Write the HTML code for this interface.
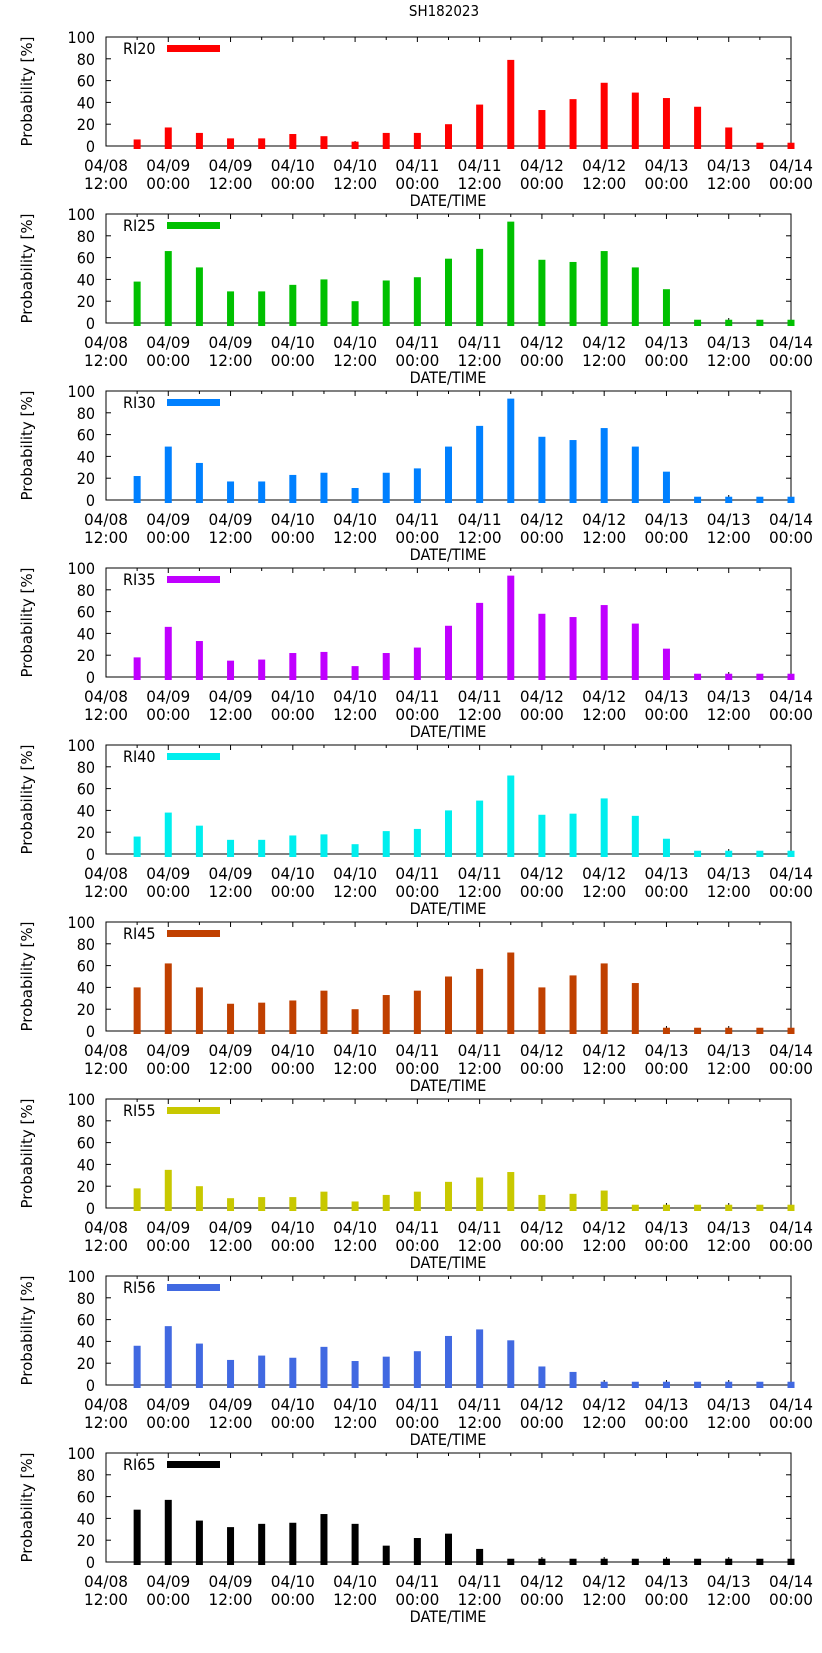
<!DOCTYPE html>
<html><head><meta charset="utf-8"><style>
body{margin:0;background:#fff;width:822px;height:1653px;overflow:hidden}
svg{display:block}
text{font-family:"DejaVu Sans Condensed","DejaVu Sans","Liberation Sans",sans-serif;fill:#000}
</style></head><body>
<svg id="chart" width="822" height="1653" viewBox="0 0 822 1653" xmlns="http://www.w3.org/2000/svg">
<text x="444" y="16" font-size="15" text-anchor="middle">SH182023</text>
</svg>
<script>
const seriesNames = ["RI20","RI25","RI30","RI35","RI40","RI45","RI55","RI56","RI65"];
const seriesColors = ["#ff0000","#00c000","#0080ff","#c000ff","#00eeee","#c04000","#c8c800","#4169e1","#000000"];
const ri20 = [6,17,12,7,7,11,9,4,12,12,20,38,79,33,43,58,49,44,36,17,3,3];
const ri25 = [38,66,51,29,29,35,40,20,39,42,59,68,93,58,56,66,51,31,3,3,3,3];
const ri30 = [22,49,34,17,17,23,25,11,25,29,49,68,93,58,55,66,49,26,3,3,3,3];
const ri35 = [18,46,33,15,16,22,23,10,22,27,47,68,93,58,55,66,49,26,3,3,3,3];
const ri40 = [16,38,26,13,13,17,18,9,21,23,40,49,72,36,37,51,35,14,3,3,3,3];
const ri45 = [40,62,40,25,26,28,37,20,33,37,50,57,72,40,51,62,44,3,3,3,3,3];
const ri55 = [18,35,20,9,10,10,15,6,12,15,24,28,33,12,13,16,3,3,3,3,3,3];
const ri56 = [36,54,38,23,27,25,35,22,26,31,45,51,41,17,12,3,3,3,3,3,3,3];
const ri65 = [48,57,38,32,35,36,44,35,15,22,26,12,3,3,3,3,3,3,3,3,3,3];
const allSeries = [ri20,ri25,ri30,ri35,ri40,ri45,ri55,ri56,ri65];
const barHours = [6,12,18,24,30,36,42,48,54,60,66,72,78,84,90,96,102,108,114,120,126,132];
const xTickDates = ["04/08","04/09","04/09","04/10","04/10","04/11","04/11","04/12","04/12","04/13","04/13","04/14"];
const xTickTimes = ["12:00","00:00","12:00","00:00","12:00","00:00","12:00","00:00","12:00","00:00","12:00","00:00"];
const yTicks = [0,20,40,60,80,100];

const NS="http://www.w3.org/2000/svg";
const svg=document.getElementById('chart');
const L=106,R=791,H=109,GAP=177,T0=37,MAXH=132;
function mk(tag,attrs,parent){const e=document.createElementNS(NS,tag);for(const k in attrs)e.setAttribute(k,attrs[k]);(parent||svg).appendChild(e);return e;}
const xs=h=>L+(R-L)*h/MAXH;

seriesNames.forEach((name,p)=>{
  const top=T0+p*GAP, bot=top+H;
  const ys=v=>bot-H*v/100;
  const g=mk('g',{});
  
  
  // frame
  const fr=mk('rect',{x:L,y:top,width:R-L,height:H,fill:'none',stroke:'#000','stroke-width':1},g);
  
  
  // y ticks
  yTicks.forEach(t=>{
    const y=ys(t);
    mk('line',{x1:L,x2:L+5,y1:y,y2:y,stroke:'#000'},g);
    mk('line',{x1:R-5,x2:R,y1:y,y2:y,stroke:'#000'},g);
    const tx=mk('text',{x:L-11,y:y+6,'font-size':16,'text-anchor':'end'},g);
    tx.textContent=t;
    
    
  });
  // x ticks
  for(let h=0;h<=MAXH;h+=6){
    const x=xs(h);const len=(h%12===0)?5:3;
    mk('line',{x1:x,x2:x,y1:bot,y2:bot-len,stroke:'#000'},g);
    mk('line',{x1:x,x2:x,y1:top,y2:top+len,stroke:'#000'},g);
  }
  // bars (drawn over ticks)
  allSeries[p].forEach((v,i)=>{
    const x=xs(barHours[i]);
    const b=mk('rect',{x:x-3.5,y:ys(v),width:7,height:bot+3-ys(v),fill:seriesColors[p]},g);
    
    
  });
  xTickDates.forEach((d,i)=>{
    const x=xs(i*12);
    const t1=mk('text',{x:x,y:bot+25,'font-size':16,'text-anchor':'middle',textLength:44,lengthAdjust:'spacingAndGlyphs'},g);
    t1.textContent=d;
    
    
    const t2=mk('text',{x:x,y:bot+43,'font-size':16,'text-anchor':'middle',textLength:44,lengthAdjust:'spacingAndGlyphs'},g);
    t2.textContent=xTickTimes[i];
    
    
  });
  const xl=mk('text',{x:448,y:bot+60,'font-size':16,'text-anchor':'middle'},g);
  xl.textContent='DATE/TIME';
  
  
  const yl=mk('text',{x:0,y:0,'font-size':15,'text-anchor':'middle',transform:'translate(32,'+(top+H/2)+') rotate(-90)',style:'font-family:"DejaVu Sans",sans-serif'},g);
  yl.textContent='Probability [%]';
  
  
  const lt=mk('text',{x:123,y:top+17,'font-size':16},g);
  lt.textContent=name;
  
  
  const ll=mk('rect',{x:167,y:top+8,width:53,height:7,fill:seriesColors[p]},g);
  
  
});
</script>
</body></html>
